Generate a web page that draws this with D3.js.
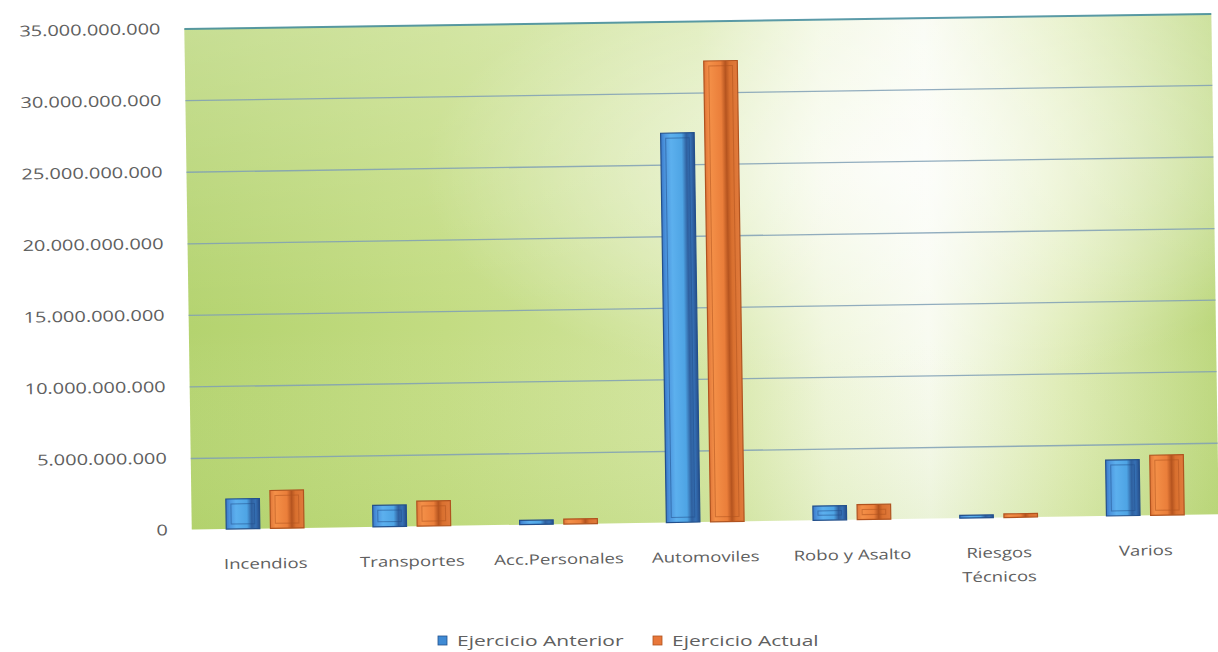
<!DOCTYPE html>
<html><head><meta charset="utf-8">
<script src="https://cdn.jsdelivr.net/npm/d3@7"></script>
<style>
html,body{margin:0;padding:0;background:#fff;}
svg{display:block;}
text{font-family:"Open Sans","DejaVu Sans",sans-serif;fill:#606060;}
</style></head>
<body>
<svg id="chart" width="1218" height="652"></svg>
<script>
// ---- data ----
const categories = ["Incendios","Transportes","Acc.Personales","Automoviles","Robo y Asalto","Riesgos Técnicos","Varios"];
const seriesNames = ["Ejercicio Anterior","Ejercicio Actual"];
const anterior = [2100000000, 1500000000, 300000000, 27200000000, 1000000000, 200000000, 3900000000];
const actual   = [2650000000, 1750000000, 350000000, 32200000000, 1050000000, 250000000, 4200000000];
const yTicks = [0, 5000000000, 10000000000, 15000000000, 20000000000, 25000000000, 30000000000, 35000000000];
const seriesColors = ["#3f8ad4","#e8773a"];
const seriesDark = ["#23508c","#b0531f"];

(function(){
const svg = d3.select("#chart");
const defs = svg.append("defs");
const pL = 188, pR = 1215, pT = 21, pB = 522;

const bg = defs.append("linearGradient").attr("id","bgH").attr("x1","0").attr("x2","1").attr("y1","0").attr("y2","0");
[[0,"#b4d36f"],[0.25,"#c3dc82"],[0.5,"#d3e5a0"],[0.62,"#eef5d8"],[0.72,"#f7faee"],[0.85,"#dfecb6"],[1,"#bcd77c"]]
  .forEach(([o,c])=>bg.append("stop").attr("offset",o).attr("stop-color",c));
const glow = defs.append("radialGradient").attr("id","glow").attr("cx","0.68").attr("cy","0.3").attr("r","0.45");
glow.append("stop").attr("offset",0).attr("stop-color","#ffffff").attr("stop-opacity",0.7);
glow.append("stop").attr("offset",1).attr("stop-color","#ffffff").attr("stop-opacity",0);
const vfade = defs.append("linearGradient").attr("id","vfade").attr("x1","0").attr("x2","0").attr("y1","0").attr("y2","1");
vfade.append("stop").attr("offset",0).attr("stop-color","#ffffff").attr("stop-opacity",0.25);
vfade.append("stop").attr("offset",0.6).attr("stop-color","#ffffff").attr("stop-opacity",0);
vfade.append("stop").attr("offset",1).attr("stop-color","#a8cc60").attr("stop-opacity",0.15);

const barGrads = [
  [[0,"#3a78c9"],[0.12,"#4d96de"],[0.3,"#5cb0ee"],[0.62,"#4ea4e4"],[0.76,"#2f609f"],[0.88,"#3570b4"],[1,"#274f8c"]],
  [[0,"#e0773a"],[0.15,"#f49048"],[0.5,"#ea7e3a"],[0.64,"#b5541f"],[0.76,"#d9702f"],[1,"#e07a3c"]]
];
barGrads.forEach((stops, s) => {
  const lg = defs.append("linearGradient").attr("id","bar"+s).attr("x1","0").attr("x2","1").attr("y1","0").attr("y2","0");
  stops.forEach(([o,c]) => lg.append("stop").attr("offset",o).attr("stop-color",c));
});

const g = svg.append("g").attr("transform", `rotate(-0.85 700 270)`);

const y = d3.scaleLinear().domain([0, 35000000000]).range([pB, pT]);
const x0 = d3.scaleBand().domain(categories).range([pL, pR]).paddingInner(0).paddingOuter(0);
const x1 = d3.scaleBand().domain(seriesNames)
  .range([x0.bandwidth()*0.235, x0.bandwidth()*0.765]).paddingInner(0.24);

g.append("rect").attr("x",pL).attr("y",pT).attr("width",pR-pL).attr("height",pB-pT).attr("fill","url(#bgH)");
g.append("rect").attr("x",pL).attr("y",pT).attr("width",pR-pL).attr("height",pB-pT).attr("fill","url(#glow)");
g.append("rect").attr("x",pL).attr("y",pT).attr("width",pR-pL).attr("height",pB-pT).attr("fill","url(#vfade)");

const yAxis = d3.axisLeft(y).tickValues(yTicks).tickSize(-(pR-pL)).tickPadding(24)
  .tickFormat(d => d3.format(",")(d).replace(/,/g,"."));
const ya = g.append("g").attr("transform",`translate(${pL},0)`).call(yAxis);
ya.select(".domain").remove();
ya.selectAll(".tick line").attr("stroke", d => d===35000000000 ? "#3f8a9c" : "#7f9fb5")
  .attr("stroke-width", d => d===35000000000 ? 2 : 1.3).attr("stroke-opacity",0.85)
  .style("display", d => d===0 ? "none" : null);
ya.selectAll(".tick text").attr("font-size",15).attr("fill","#606060")
  .attr("transform","scale(1.33,1)").attr("x", -24/1.33);

const catG = g.selectAll(".cat").data(categories).join("g").attr("class","cat")
  .attr("transform", c => `translate(${x0(c)},0)`);
catG.each(function(c, i){
  const vals = [anterior[i], actual[i]];
  const sel = d3.select(this);
  vals.forEach((v, s) => {
    const bx = x1(seriesNames[s]), bw = x1.bandwidth();
    const by = y(v), bh = pB - y(v);
    sel.append("rect").attr("x",bx).attr("y",by).attr("width",bw).attr("height",bh)
      .attr("fill","url(#bar"+s+")").attr("stroke",seriesDark[s]).attr("stroke-width",1.2);
    if (bh > 14) {
      const ins = 5;
      sel.append("rect").attr("x",bx+ins).attr("y",by+ins).attr("width",bw-2*ins).attr("height",bh-2*ins)
        .attr("fill","none").attr("stroke",seriesDark[s]).attr("stroke-width",1).attr("stroke-opacity",0.55);
    }
  });
});

const xAxis = d3.axisBottom(x0).tickSize(0).tickPadding(0);
const xa = g.append("g").attr("transform",`translate(0,${pB})`).call(xAxis);
xa.select(".domain").remove();
xa.selectAll(".tick text").each(function(d){
  const t = d3.select(this);
  t.text(null).attr("font-size",14).attr("fill","#606060").attr("text-anchor","middle")
    .attr("transform","scale(1.33,1)").attr("x",0).attr("y",0).attr("dy",null);
  const parts = d === "Riesgos Técnicos" ? ["Riesgos","Técnicos"] : [d];
  parts.forEach((p, k) => t.append("tspan").attr("x",0).attr("y", 40 + k*24).text(p));
});

const legend = svg.append("g").attr("transform","translate(438,641)");
const legX = [0, 215];
seriesNames.forEach((n, s) => {
  const lg = legend.append("g").attr("transform",`translate(${legX[s]},0)`);
  lg.append("rect").attr("x",0).attr("y",-5).attr("width",9).attr("height",9)
    .attr("fill", seriesColors[s]).attr("stroke", seriesDark[s]).attr("stroke-width",0.8);
  lg.append("text").attr("x",19/1.5).attr("y",5).attr("font-size",14).attr("transform","scale(1.5,1)").text(n);
});
})();
</script>
</body></html>
